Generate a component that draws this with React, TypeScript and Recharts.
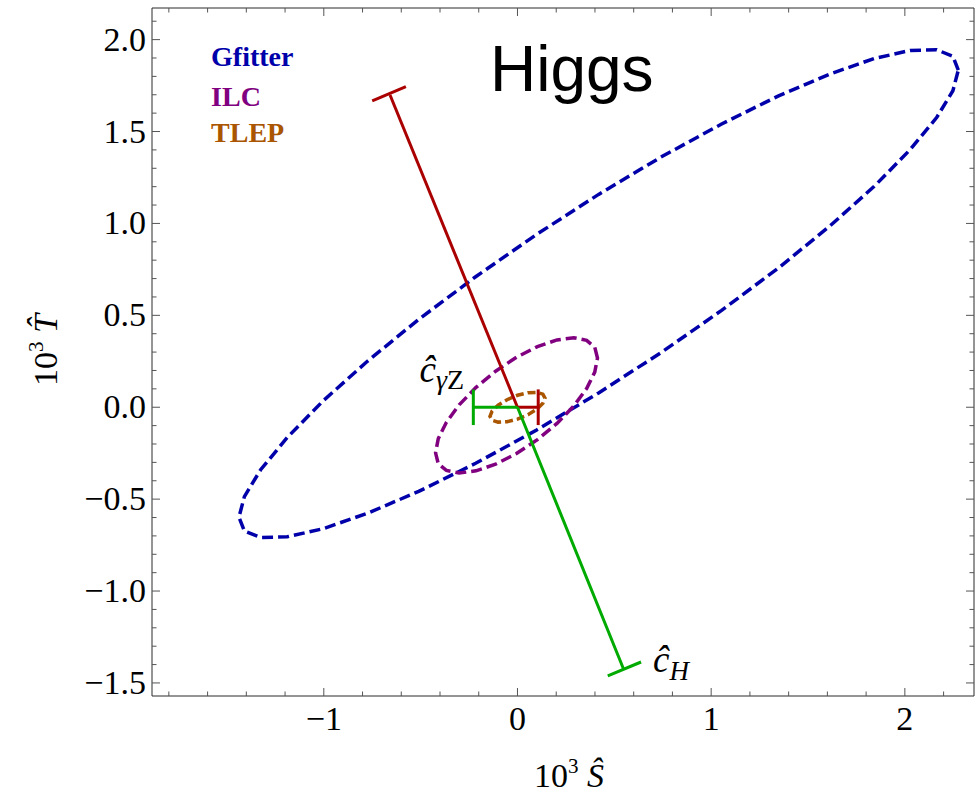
import React from "react"
import { ComposedChart, Line, XAxis, YAxis, ReferenceDot } from "recharts"

type Pt = { s: number; t: number }

// contours (10^3 S, 10^3 T)
const gfitter: Pt[] = [
  { s: 2.276, t: 1.834 }, { s: 2.248, t: 1.909 }, { s: 2.164, t: 1.945 }, { s: 2.027, t: 1.941 },
  { s: 1.842, t: 1.897 }, { s: 1.613, t: 1.813 }, { s: 1.348, t: 1.694 }, { s: 1.054, t: 1.541 },
  { s: 0.741, t: 1.361 }, { s: 0.419, t: 1.158 }, { s: 0.097, t: 0.939 }, { s: -0.216, t: 0.71 },
  { s: -0.51, t: 0.478 }, { s: -0.775, t: 0.25 }, { s: -1.004, t: 0.034 }, { s: -1.189, t: -0.165 },
  { s: -1.326, t: -0.34 }, { s: -1.41, t: -0.486 }, { s: -1.438, t: -0.598 }, { s: -1.41, t: -0.673 },
  { s: -1.326, t: -0.709 }, { s: -1.189, t: -0.705 }, { s: -1.004, t: -0.661 }, { s: -0.775, t: -0.577 },
  { s: -0.51, t: -0.458 }, { s: -0.216, t: -0.305 }, { s: 0.097, t: -0.125 }, { s: 0.419, t: 0.078 },
  { s: 0.741, t: 0.297 }, { s: 1.054, t: 0.527 }, { s: 1.348, t: 0.758 }, { s: 1.613, t: 0.986 },
  { s: 1.842, t: 1.202 }, { s: 2.027, t: 1.401 }, { s: 2.164, t: 1.576 }, { s: 2.248, t: 1.722 },
]

const ilc: Pt[] = [
  { s: 0.413, t: 0.268 }, { s: 0.399, t: 0.327 }, { s: 0.357, t: 0.364 }, { s: 0.291, t: 0.378 },
  { s: 0.204, t: 0.366 }, { s: 0.103, t: 0.33 }, { s: -0.005, t: 0.272 }, { s: -0.113, t: 0.196 },
  { s: -0.214, t: 0.108 }, { s: -0.301, t: 0.013 }, { s: -0.367, t: -0.082 }, { s: -0.409, t: -0.171 },
  { s: -0.423, t: -0.248 }, { s: -0.409, t: -0.307 }, { s: -0.367, t: -0.344 }, { s: -0.301, t: -0.358 },
  { s: -0.214, t: -0.346 }, { s: -0.113, t: -0.31 }, { s: -0.005, t: -0.252 }, { s: 0.103, t: -0.176 },
  { s: 0.204, t: -0.088 }, { s: 0.291, t: 0.007 }, { s: 0.357, t: 0.102 }, { s: 0.399, t: 0.191 },
]

const tlep: Pt[] = [
  { s: 0.142, t: 0.05 }, { s: 0.131, t: 0.071 }, { s: 0.1, t: 0.081 }, { s: 0.054, t: 0.079 },
  { s: 0, t: 0.065 }, { s: -0.054, t: 0.041 }, { s: -0.1, t: 0.011 }, { s: -0.131, t: -0.021 },
  { s: -0.142, t: -0.05 }, { s: -0.131, t: -0.071 }, { s: -0.1, t: -0.081 }, { s: -0.054, t: -0.079 },
  { s: 0, t: -0.065 }, { s: 0.054, t: -0.041 }, { s: 0.1, t: -0.011 }, { s: 0.131, t: 0.021 },
]

// operator directions: red = upper end, green = lower end
const redCH: Pt[] = [{ s: 0, t: 0 }, { s: -0.658, t: 1.699 }]
const redCHCap: Pt[] = [{ s: -0.75, t: 1.667 }, { s: -0.576, t: 1.744 }]
const redCgZ: Pt[] = [{ s: 0, t: 0 }, { s: 0.107, t: 0 }]
const redCgZCap: Pt[] = [{ s: 0.107, t: -0.097 }, { s: 0.107, t: 0.097 }]
const greenCH: Pt[] = [{ s: 0, t: 0 }, { s: 0.546, t: -1.42 }]
const greenCHCap: Pt[] = [{ s: 0.466, t: -1.462 }, { s: 0.638, t: -1.386 }]
const greenCgZ: Pt[] = [{ s: 0, t: 0 }, { s: -0.228, t: 0 }]
const greenCgZCap: Pt[] = [{ s: -0.228, t: -0.097 }, { s: -0.228, t: 0.097 }]

const xTicks = [-1.8, -1.6, -1.4, -1.2, -1, -0.8, -0.6, -0.4, -0.2, 0, 0.2, 0.4, 0.6, 0.8, 1, 1.2, 1.4, 1.6, 1.8, 2, 2.2]
const xMajor = [-1, 0, 1, 2]
const yTicks = [
  -1.5, -1.4, -1.3, -1.2, -1.1, -1, -0.9, -0.8, -0.7, -0.6, -0.5, -0.4, -0.3, -0.2, -0.1, 0,
  0.1, 0.2, 0.3, 0.4, 0.5, 0.6, 0.7, 0.8, 0.9, 1, 1.1, 1.2, 1.3, 1.4, 1.5, 1.6, 1.7, 1.8, 1.9, 2, 2.1,
]
const yMajor = [-1.5, -1, -0.5, 0, 0.5, 1, 1.5, 2]

const serif = '"Liberation Serif", "Times New Roman", "DejaVu Serif", serif'
const sans = '"Liberation Sans", Arial, sans-serif'
const frame = "#2a2a2a"
const tickColor = "#555"

const isMajor = (list: number[], v: number) => list.some((m) => Math.abs(m - v) < 1e-6)
const minus = (v: number, txt: string) => (v < 0 ? "\u2212" + txt : txt)

const BottomTick = (props: any) => {
  const { x, y, payload } = props
  const major = isMajor(xMajor, payload.value)
  return (
    <g>
      <line x1={x} y1={y} x2={x} y2={y - (major ? 8 : 4.5)} stroke={tickColor} />
      {major && (
        <text x={x} y={y + 34} textAnchor="middle" fontSize={34} fontFamily={serif} fill="#000">
          {minus(payload.value, String(Math.abs(payload.value)))}
        </text>
      )}
    </g>
  )
}

const TopTick = (props: any) => {
  const { x, y, payload } = props
  const major = isMajor(xMajor, payload.value)
  return <line x1={x} y1={y} x2={x} y2={y + (major ? 8 : 4.5)} stroke={tickColor} />
}

const LeftTick = (props: any) => {
  const { x, y, payload } = props
  const major = isMajor(yMajor, payload.value)
  return (
    <g>
      <line x1={x} y1={y} x2={x + (major ? 8 : 4.5)} y2={y} stroke={tickColor} />
      {major && (
        <text x={x - 6} y={y + 11} textAnchor="end" fontSize={34} fontFamily={serif} fill="#000">
          {minus(payload.value, Math.abs(payload.value).toFixed(1))}
        </text>
      )}
    </g>
  )
}

const RightTick = (props: any) => {
  const { x, y, payload } = props
  const major = isMajor(yMajor, payload.value)
  return <line x1={x} y1={y} x2={x - (major ? 8 : 4.5)} y2={y} stroke={tickColor} />
}

const text = (node: (cx: number, cy: number) => React.ReactElement) => (p: any) => node(p.cx, p.cy)

export default function App() {
  const xDomain = [-1.887, 2.357]
  const yDomain = [-1.571, 2.172]

  return (
    <div style={{ position: "absolute", left: 0, top: 0, width: 975, height: 794, background: "#fff" }}>
      <ComposedChart width={975} height={794} margin={{ top: 7, right: 0, left: 0, bottom: 0 }}>
        <XAxis
          dataKey="s"
          type="number"
          domain={xDomain}
          allowDataOverflow
          ticks={xTicks}
          interval={0}
          height={98}
          tickSize={0}
          tickMargin={0}
          tick={BottomTick}
          stroke={frame}
          label={{
            content: (p: any) => (
              <text
                x={p.viewBox.x + p.viewBox.width / 2 + 6}
                y={p.viewBox.y + 91}
                textAnchor="middle"
                fontSize={34}
                fontFamily={serif}
                fill="#000"
              >
                10<tspan fontSize={21} dy={-14}>3</tspan>
                <tspan dy={14} fontStyle="italic">{"\u00a0\u015c"}</tspan>
              </text>
            ),
          }}
        />
        <XAxis
          xAxisId="top"
          orientation="top"
          dataKey="s"
          type="number"
          domain={xDomain}
          allowDataOverflow
          ticks={xTicks}
          interval={0}
          height={1}
          tickSize={0}
          tickMargin={0}
          tick={TopTick}
          stroke={frame}
        />
        <YAxis
          type="number"
          domain={yDomain}
          allowDataOverflow
          ticks={yTicks}
          interval={0}
          width={152}
          tickSize={0}
          tickMargin={0}
          tick={LeftTick}
          stroke={frame}
          label={{
            content: (p: any) => {
              const cx = 57
              const cy = p.viewBox.y + p.viewBox.height / 2 - 2
              return (
                <text
                  x={cx}
                  y={cy}
                  transform={`rotate(-90 ${cx} ${cy})`}
                  textAnchor="middle"
                  fontSize={34}
                  fontFamily={serif}
                  fill="#000"
                >
                  10<tspan fontSize={21} dy={-14}>3</tspan>
                  <tspan dy={14} fontStyle="italic">{"\u00a0T\u0302"}</tspan>
                </text>
              )
            },
          }}
        />
        <YAxis
          yAxisId="right"
          orientation="right"
          type="number"
          domain={yDomain}
          allowDataOverflow
          ticks={yTicks}
          interval={0}
          width={1}
          tickSize={0}
          tickMargin={0}
          tick={RightTick}
          stroke={frame}
        />

        {/* invisible copy so the top / right frame axes get drawn */}
        <Line data={tlep} xAxisId="top" yAxisId="right" dataKey="t" stroke="none" dot={false}
          activeDot={false} isAnimationActive={false} />

        <Line data={gfitter} dataKey="t" type="linearClosed" stroke="#0000aa" strokeWidth={3.5}
          strokeDasharray="11 5" dot={false} activeDot={false} isAnimationActive={false} />
        <Line data={ilc} dataKey="t" type="linearClosed" stroke="#800080" strokeWidth={3.5}
          strokeDasharray="11 5" dot={false} activeDot={false} isAnimationActive={false} />
        <Line data={tlep} dataKey="t" type="linearClosed" stroke="#aa5500" strokeWidth={3.5}
          strokeDasharray="8 4" dot={false} activeDot={false} isAnimationActive={false} />

        {[redCH, redCHCap, redCgZ, redCgZCap].map((d, i) => (
          <Line key={"r" + i} data={d} dataKey="t" type="linear" stroke="#aa0000" strokeWidth={3}
            dot={false} activeDot={false} isAnimationActive={false} />
        ))}
        {[greenCH, greenCHCap, greenCgZ, greenCgZCap].map((d, i) => (
          <Line key={"g" + i} data={d} dataKey="t" type="linear" stroke="#00aa00" strokeWidth={3}
            dot={false} activeDot={false} isAnimationActive={false} />
        ))}

        <ReferenceDot x={-0.142} y={1.721} r={0} shape={text((x, y) => (
          <text x={x} y={y} fontSize={64} fontFamily={sans} fill="#000">Higgs</text>
        ))} />
        <ReferenceDot x={-1.582} y={1.854} r={0} shape={text((x, y) => (
          <text x={x} y={y} fontSize={28} fontWeight="bold" fontFamily={serif} fill="#0000aa">Gfitter</text>
        ))} />
        <ReferenceDot x={-1.582} y={1.639} r={0} shape={text((x, y) => (
          <text x={x} y={y} fontSize={28} fontWeight="bold" fontFamily={serif} fill="#800080">ILC</text>
        ))} />
        <ReferenceDot x={-1.582} y={1.441} r={0} shape={text((x, y) => (
          <text x={x} y={y} fontSize={28} fontWeight="bold" fontFamily={serif} fill="#aa5500">TLEP</text>
        ))} />
        <ReferenceDot x={-0.506} y={0.139} r={0} shape={text((x, y) => (
          <text x={x} y={y} fontFamily={serif} fill="#000">
            <tspan fontStyle="italic" fontSize={37}>{"\u0109"}</tspan>
            <tspan fontSize={28} dy={7}>
              <tspan fontStyle="italic">{"\u03b3"}</tspan>Z
            </tspan>
          </text>
        ))} />
        <ReferenceDot x={0.6995} y={-1.4385} r={0} shape={text((x, y) => (
          <text x={x} y={y} fontFamily={serif} fill="#000">
            <tspan fontStyle="italic" fontSize={37}>{"\u0109"}</tspan>
            <tspan fontStyle="italic" fontSize={27} dy={8}>H</tspan>
          </text>
        ))} />
      </ComposedChart>
    </div>
  )
}
